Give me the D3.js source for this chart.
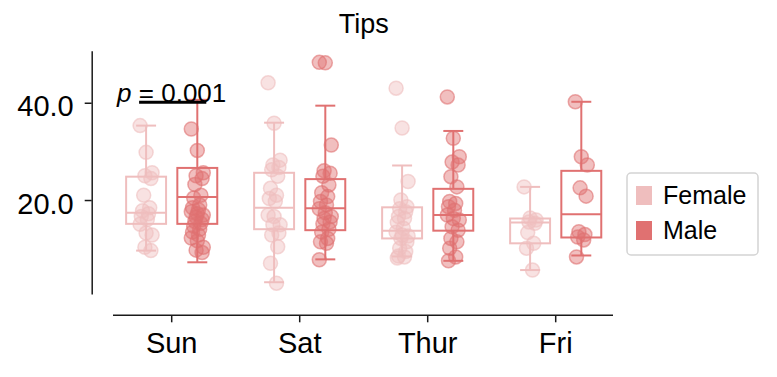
<!DOCTYPE html>
<html>
<head>
<meta charset="utf-8">
<style>
  body { margin:0; background:#fff; }
  svg { font-family: "Liberation Sans", Arial, sans-serif; }
  .axis path, .axis line { stroke:#1a1a1a; stroke-width:1.5px; }
  .axis text { fill:#000; font-size:29px; }
  .title { font-size:27px; fill:#000; }
  .box { fill:none; stroke-width:2px; }
  .legend-frame { fill:#fff; stroke:#d4d4d4; stroke-width:1.5px; }
  .legend text { font-size:25px; fill:#000; }
</style>
</head>
<body>
<svg width="777" height="377"></svg>
<script src="https://d3js.org/d3.v7.min.js"></script>
<script>

// categories
var days = ["Sun", "Sat", "Thur", "Fri"]
var sexes = ["Female", "Male"]
var yTicks = [20, 40]

// box stats per day: [lower whisker, q1, median, q3, upper whisker]
var boxFemale = [
  [9.6, 15.1, 17.4, 24.8, 35.3],
  [3.1, 14.0, 18.4, 25.6, 35.9],
  [8.4, 12.1, 13.7, 18.5, 27.1],
  [5.6, 11.1, 15.4, 16.2, 22.7]
]
var boxMale = [
  [7.2, 15.1, 20.6, 26.6, 40.6],
  [7.8, 13.8, 18.3, 24.3, 39.4],
  [7.5, 13.7, 16.9, 22.3, 34.2],
  [8.6, 12.3, 17.1, 26.0, 40.2]
]

var sunFemale = [35.3, 29.8, 25.6, 25.0, 24.4, 21.0, 18.4, 17.8, 17.2, 16.6, 16.0, 15.0, 13.2, 12.8, 10.3, 9.6]
var sunMale = [34.6, 30.2, 25.6, 25.0, 24.4, 23.2, 21.0, 20.4, 19.0, 18.4, 18.0, 17.6, 17.2, 16.9, 16.5, 16.0, 15.6, 15.2, 14.6, 14.0, 13.4, 12.8, 12.2, 11.6, 10.3, 9.7, 9.2]
var satFemale = [44.1, 35.8, 28.2, 27.2, 26.7, 26.2, 24.9, 22.4, 21.0, 20.3, 19.7, 16.9, 16.6, 14.9, 14.9, 13.2, 12.8, 10.4, 7.0, 2.9]
var satMale = [48.3, 48.2, 31.3, 26.0, 25.5, 24.9, 23.1, 21.5, 20.7, 19.7, 19.0, 18.2, 17.4, 16.6, 16.2, 15.5, 15.1, 14.0, 13.4, 12.1, 11.4, 11.1, 7.7]
var thurFemale = [43.0, 34.8, 23.8, 20.0, 18.6, 18.2, 17.6, 16.6, 16.2, 15.4, 14.2, 13.4, 12.8, 12.6, 12.1, 11.4, 10.1, 9.4, 8.5, 8.3, 8.1]
var thurMale = [41.2, 32.7, 28.9, 27.8, 27.2, 24.8, 22.7, 19.7, 19.3, 18.6, 17.9, 16.9, 16.2, 15.9, 14.5, 13.8, 12.1, 11.4, 10.1, 8.3, 7.5]
var friFemale = [22.7, 16.3, 15.9, 15.5, 15.2, 13.3, 11.1, 10.1, 5.6]
var friMale = [40.2, 28.9, 27.2, 22.5, 20.8, 13.5, 12.9, 12.4, 11.8, 8.3]

var pText = "0.001"

var colors = {Female: "#efbebe", Male: "#e07171"}

var pointsBy = {
  Sun: {Female: sunFemale, Male: sunMale},
  Sat: {Female: satFemale, Male: satMale},
  Thur: {Female: thurFemale, Male: thurMale},
  Fri: {Female: friFemale, Male: friMale}
}

var svg = d3.select("svg")

var x = d3.scaleBand()
  .domain(days)
  .range([107.7, 619.7])

var xHue = d3.scaleBand()
  .domain(sexes)
  .range([x.bandwidth() * 0.1, x.bandwidth() * 0.9])

var y = d3.scaleLinear()
  .domain([0.68, 50.7])
  .range([294, 50.7])

var boxW = xHue.bandwidth() * 0.78
var capW = boxW / 2

function hueCenter(day, sex) {
  return x(day) + xHue(sex) + xHue.bandwidth() / 2
}

// build flat tables
var boxes = []
days.forEach(function(day, i) {
  boxes.push({day: day, sex: "Female", s: boxFemale[i]})
  boxes.push({day: day, sex: "Male", s: boxMale[i]})
})

var points = []
days.forEach(function(day) {
  sexes.forEach(function(sex) {
    pointsBy[day][sex].forEach(function(v, i) {
      points.push({day: day, sex: sex, v: v, i: i})
    })
  })
})

// axes
var yAxis = d3.axisLeft(y)
  .tickValues(yTicks)
  .tickFormat(d3.format(".1f"))
  .tickSize(7)
  .tickSizeOuter(0)
  .tickPadding(11)

svg.append("g")
  .attr("class", "axis y")
  .attr("transform", "translate(91.7,0)")
  .call(yAxis)
  .selectAll("text")
  .attr("dy", "0.45em")

var xAxis = d3.axisBottom(x)
  .tickSize(7)
  .tickSizeOuter(0)
  .tickPadding(10)

var gx = svg.append("g")
  .attr("class", "axis x")
  .attr("transform", "translate(0,315.3)")
  .call(xAxis)
gx.select(".domain").remove()
gx.append("line")
  .attr("x1", x.range()[0] + 5.3)
  .attr("x2", x.range()[1] - 6.7)
  .attr("y1", 0).attr("y2", 0)
gx.selectAll("text").attr("dy", "0.73em")

// boxes
var gb = svg.append("g").selectAll(".boxg")
  .data(boxes)
  .enter().append("g")
  .attr("class", "boxg")
  .attr("stroke", function(d) { return colors[d.sex] })
  .attr("stroke-width", 2)
  .attr("fill", "none")

gb.append("rect")
  .attr("class", "box")
  .attr("x", function(d) { return hueCenter(d.day, d.sex) - boxW / 2 })
  .attr("width", boxW)
  .attr("y", function(d) { return y(d.s[3]) })
  .attr("height", function(d) { return y(d.s[1]) - y(d.s[3]) })

gb.append("line")
  .attr("x1", function(d) { return hueCenter(d.day, d.sex) - boxW / 2 })
  .attr("x2", function(d) { return hueCenter(d.day, d.sex) + boxW / 2 })
  .attr("y1", function(d) { return y(d.s[2]) })
  .attr("y2", function(d) { return y(d.s[2]) })

// whiskers
gb.append("line")
  .attr("x1", function(d) { return hueCenter(d.day, d.sex) })
  .attr("x2", function(d) { return hueCenter(d.day, d.sex) })
  .attr("y1", function(d) { return y(d.s[3]) })
  .attr("y2", function(d) { return y(d.s[4]) })
gb.append("line")
  .attr("x1", function(d) { return hueCenter(d.day, d.sex) })
  .attr("x2", function(d) { return hueCenter(d.day, d.sex) })
  .attr("y1", function(d) { return y(d.s[1]) })
  .attr("y2", function(d) { return y(d.s[0]) })
// caps
gb.append("line")
  .attr("x1", function(d) { return hueCenter(d.day, d.sex) - capW / 2 })
  .attr("x2", function(d) { return hueCenter(d.day, d.sex) + capW / 2 })
  .attr("y1", function(d) { return y(d.s[4]) })
  .attr("y2", function(d) { return y(d.s[4]) })
gb.append("line")
  .attr("x1", function(d) { return hueCenter(d.day, d.sex) - capW / 2 })
  .attr("x2", function(d) { return hueCenter(d.day, d.sex) + capW / 2 })
  .attr("y1", function(d) { return y(d.s[0]) })
  .attr("y2", function(d) { return y(d.s[0]) })

// strip points, small fixed jitter pattern by index
svg.append("g").selectAll(".pt")
  .data(points)
  .enter().append("circle")
  .attr("class", "pt")
  .attr("cx", function(d) { return hueCenter(d.day, d.sex) + ((d.i * 5) % 11 - 5) * 1.2 })
  .attr("cy", function(d) { return y(d.v) })
  .attr("r", 7)
  .attr("fill", function(d) { return colors[d.sex] })
  .attr("fill-opacity", 0.45)
  .attr("stroke", function(d) { return colors[d.sex] })
  .attr("stroke-opacity", 0.6)
  .attr("stroke-width", 1.5)

// significance bar for Sunday
var pY = y(40.1)
svg.append("line")
  .attr("x1", hueCenter("Sun", "Female") - 7)
  .attr("x2", hueCenter("Sun", "Male") + 9)
  .attr("y1", pY).attr("y2", pY)
  .attr("stroke", "#000")
  .attr("stroke-width", 3)

var pt = svg.append("text")
  .attr("x", x("Sun") + x.bandwidth() / 2)
  .attr("y", pY)
  .attr("text-anchor", "middle")
  .attr("font-size", 26)
pt.append("tspan").attr("font-style", "italic").text("p")
pt.append("tspan").text(" = " + pText)

// title
svg.append("text")
  .attr("class", "title")
  .attr("x", (x.range()[0] + x.range()[1]) / 2)
  .attr("y", 33)
  .attr("text-anchor", "middle")
  .text("Tips")

// legend
var lg = svg.append("g").attr("class", "legend")
lg.append("rect")
  .attr("class", "legend-frame")
  .attr("x", 627).attr("y", 173)
  .attr("width", 131).attr("height", 82)
  .attr("rx", 4)

var li = lg.selectAll(".item")
  .data(sexes)
  .enter().append("g")
  .attr("class", "item")
  .attr("transform", function(d, i) { return "translate(636," + (186 + i * 35) + ")" })
li.append("rect")
  .attr("width", 16).attr("height", 19)
  .attr("fill", function(d) { return colors[d] })
li.append("text")
  .attr("x", 27).attr("y", 18)
  .text(function(d) { return d })

</script>
</body>
</html>
